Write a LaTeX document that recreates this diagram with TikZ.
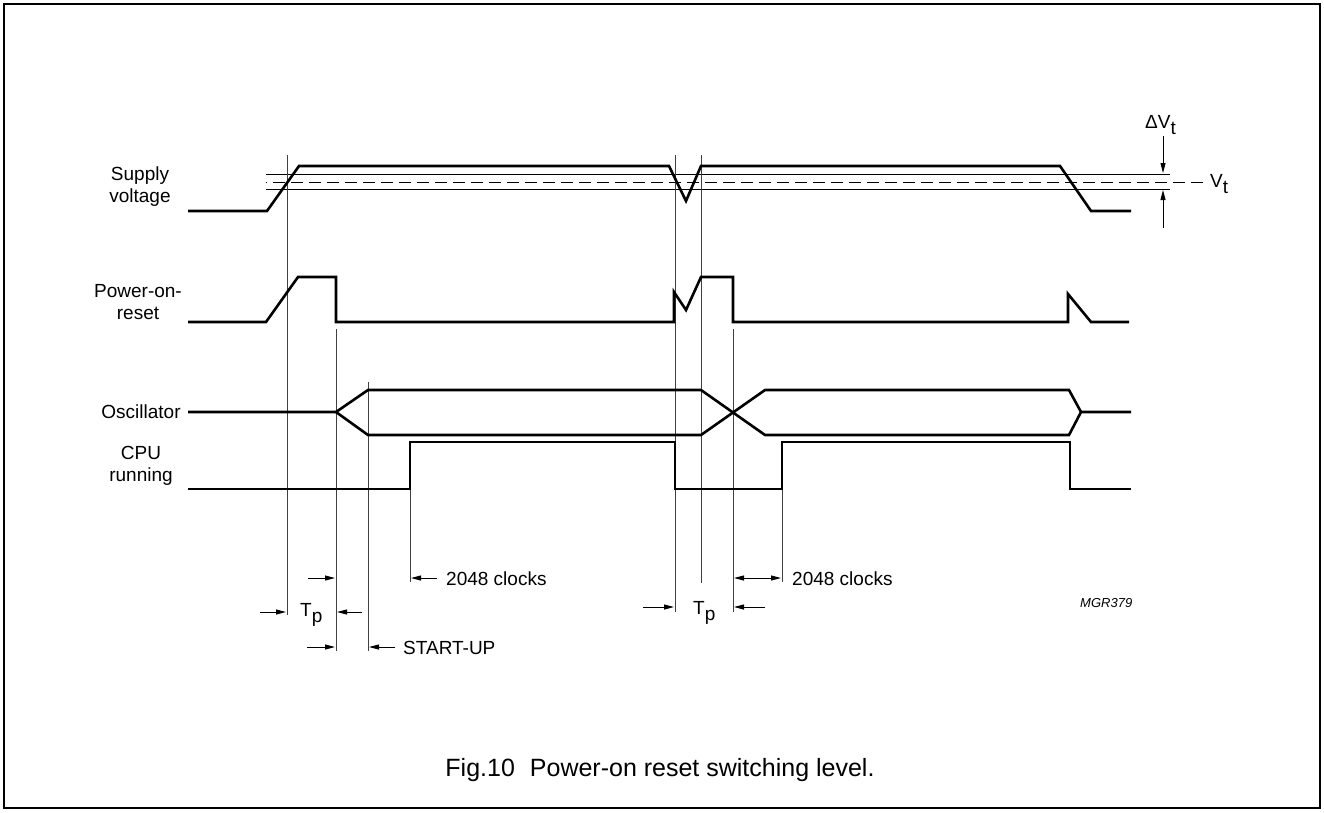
\documentclass[tikz,border=0pt]{standalone}
\usepackage{fontspec}
\setmainfont{Liberation Sans}
\usetikzlibrary{arrows.meta}
\begin{document}
\begin{tikzpicture}[x=1pt,y=-1pt,
  sig/.style={line width=2.6pt, line join=miter},
  thinln/.style={line width=0.9pt},
  vline/.style={line width=0.9pt, black!75},
  dim/.style={line width=1pt, -{Triangle[length=10pt,width=5pt]}},
  dimboth/.style={line width=1pt, {Triangle[length=10pt,width=5pt]}-{Triangle[length=10pt,width=5pt]}},
  lbl/.style={font=\fontsize{19}{22}\selectfont, align=center, inner sep=0pt},
  txt/.style={font=\fontsize{19}{22}\selectfont, inner sep=0pt}]
\useasboundingbox (0,0) rectangle (1324,812);
\draw[line width=1.2pt] (4,4) rectangle (1320,808);

% labels
\node[lbl] (lsup) at (140,187) {Supply\\voltage};
\node[lbl] (lpor) at (138,302) {Power-on-\\reset};
\node[lbl] (losc) at (141,412) {Oscillator};
\node[lbl] (lcpu) at (141,466) {CPU\\running};

% threshold lines
\draw[thinln] (266,174) -- (1170,174);
\draw[thinln] (266,189) -- (1170,189);
\draw[thinln, dash pattern=on 12pt off 6pt] (1203,182) -- (266,182);

% vertical reference lines
\draw[vline] (287,155) -- (287,615);
\draw[vline] (336,329) -- (336,651);
\draw[vline] (368,382) -- (368,651);
\draw[vline] (410,489) -- (410,582);
\draw[vline] (675,155) -- (675,612);
\draw[vline] (701,155) -- (701,583);
\draw[vline] (733,329) -- (733,612);
\draw[vline] (782,489) -- (782,582);

% signals
\draw[sig] (188,211) -- (267,211) -- (299,166) -- (669,166) -- (686,201) -- (701,166) -- (1060,166) -- (1091,211) -- (1131,211);
\draw[sig] (188,322) -- (266,322) -- (298,277) -- (336,277) -- (336,322) -- (674,322) -- (674,292) -- (686,310) -- (701,277) -- (733,277) -- (733,322) -- (1068,322) -- (1068,294) -- (1091,322) -- (1129,322);
\draw[sig] (188,412) -- (336,412) -- (368,390) -- (701,390) -- (765,435) -- (1069,435) -- (1081,412) -- (1131,412);
\draw[sig] (336,412) -- (368,435) -- (701,435) -- (765,390) -- (1069,390) -- (1081,412);
\draw[sig] (188,489) -- (410,489) -- (410,442) -- (675,442) -- (675,489) -- (782,489) -- (782,442) -- (1070,442) -- (1070,489) -- (1131,489);

% dimension arrows
\coordinate (a1s) at (260,612); \coordinate (a1e) at (286,612);
\coordinate (a2s) at (362,612); \coordinate (a2e) at (337,612);
\coordinate (a3s) at (308,578); \coordinate (a3e) at (335,578);
\coordinate (a4s) at (307,647); \coordinate (a4e) at (335,647);
\coordinate (a5s) at (395,647); \coordinate (a5e) at (369,647);
\coordinate (a6s) at (437,578); \coordinate (a6e) at (411,578);
\coordinate (b1s) at (643,607); \coordinate (b1e) at (674,607);
\coordinate (b2s) at (765,607); \coordinate (b2e) at (734,607);
\coordinate (b3s) at (734,578); \coordinate (b3e) at (781,578);
\coordinate (v1s) at (1163,136); \coordinate (v1e) at (1163,173);
\coordinate (v2s) at (1163,228); \coordinate (v2e) at (1163,190);
\foreach \p in {a1,a2,a3,a4,a5,a6,b1,b2,v1,v2} \draw[dim] (\p s) -- (\p e);
\draw[dimboth] (b3s) -- (b3e);

% texts
\node[txt, anchor=base west] (tp1) at (300,616) {T\raisebox{-6pt}{p}};
\node[txt, anchor=base west] (tp2) at (693,614) {T\raisebox{-6pt}{p}};
\node[txt, anchor=base west] (c1) at (446,585) {2048 clocks};
\node[txt, anchor=base west] (c2) at (792,585) {2048 clocks};
\node[txt, anchor=base west] (su) at (403,654) {START-UP};
\node[txt, anchor=base west] (dv) at (1145,128) {ΔV\raisebox{-6pt}{t}};
\node[txt, anchor=base west] (vt) at (1210,187) {V\raisebox{-6pt}{t}};
\node[inner sep=0pt, anchor=base west, font=\fontsize{13}{15}\selectfont\itshape] (mgr) at (1080,607) {MGR379};
\node[inner sep=0pt, anchor=base, font=\fontsize{25}{29}\selectfont] (cap) at (660,776) {Fig.10\hspace{0.6em}Power-on reset switching level.};
\end{tikzpicture}
\end{document}
